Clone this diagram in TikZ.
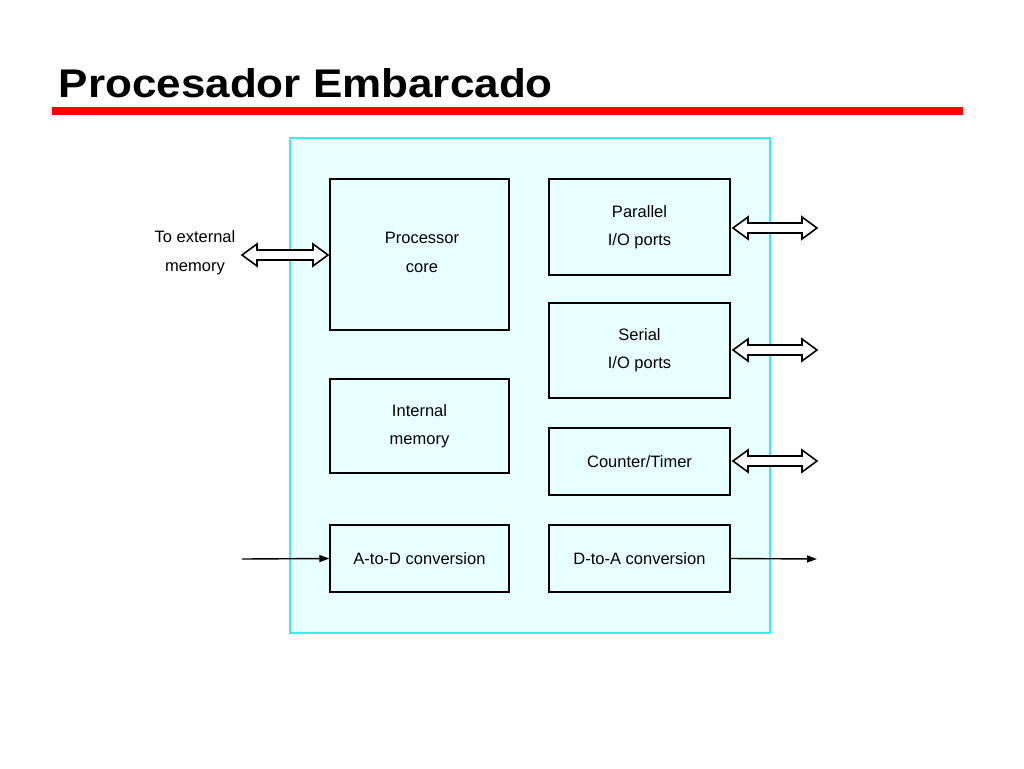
\documentclass[tikz,border=0pt]{standalone}
\usepackage{fontspec}
\setmainfont{Liberation Sans}
\usetikzlibrary{arrows.meta}
\definecolor{chipb}{HTML}{33F0F0}
\definecolor{chipf}{HTML}{E8FFFF}
\newcommand{\dblarr}[3]{% x1, x2, y
  \draw[line width=1.6pt,fill=white,line join=miter] (#1,#3) -- ++(15,-11) -- ++(0,6) -- (#2-15,#3-5) -- ++(0,-6) -- (#2,#3) -- ++(-15,11) -- ++(0,-6) -- (#1+15,#3+5) -- ++(0,6) -- cycle;}
\begin{document}
\begin{tikzpicture}[x=1pt,y=-1pt,
 blk/.style={draw,line width=1.4pt,align=center,font=\fontsize{16.5}{28}\selectfont,inner sep=0pt},
 lbl/.style={font=\fontsize{16.5}{29}\selectfont,align=center}]
\useasboundingbox (0,0) rectangle (1024,768);
\node[anchor=base west,font=\bfseries\fontsize{40}{42}\selectfont,xscale=1.1,text depth=0pt] (title) at (55,97) {Procesador Embarcado};
\fill[red] (52,107) rectangle (963,115);
\draw[chipb,fill=chipf,line width=2pt] (290,138) rectangle (770,633);
\node[blk,minimum width=179pt,minimum height=151pt] (proc) at (419.5,254.5) {};
\node[lbl] at (422,252) {Processor\\core};
\node[blk,minimum width=179pt,minimum height=94pt] (imem) at (419.5,426) {Internal\\memory};
\node[blk,minimum width=179pt,minimum height=67pt] (adc) at (419.5,558.5) {A-to-D conversion};
\node[blk,minimum width=181pt,minimum height=96pt] (par) at (639.5,227) {Parallel\\I/O ports};
\node[blk,minimum width=181pt,minimum height=95pt] (ser) at (639.5,350.5) {Serial\\I/O ports};
\node[blk,minimum width=181pt,minimum height=67pt] (ct) at (639.5,461.5) {Counter/Timer};
\node[blk,minimum width=181pt,minimum height=67pt] (dac) at (639.5,558.5) {D-to-A conversion};
\node[lbl] (ext) at (195,253) {To external\\memory};
\dblarr{242}{328}{255}
\dblarr{733}{817}{228}
\dblarr{733}{817}{350}
\dblarr{733}{817}{461}
\coordinate (inl) at (242,559);
\coordinate (outr) at (817,559);
\draw[line width=1.4pt,-{Triangle[length=10pt,width=7pt]}] (inl) -- (adc.west);
\draw[line width=1.4pt,-{Triangle[length=10pt,width=7pt]}] (dac.east) -- (outr);
\end{tikzpicture}
\end{document}
